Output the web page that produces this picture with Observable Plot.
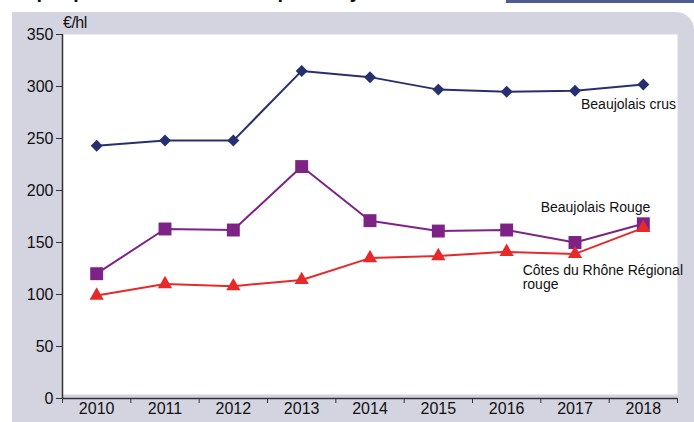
<!DOCTYPE html>
<html><head><meta charset="utf-8">
<script src="https://cdn.jsdelivr.net/npm/d3@7"></script>
<script src="https://cdn.jsdelivr.net/npm/@observablehq/plot@0.6"></script>
<style>
html,body{margin:0;padding:0;background:#fff;width:694px;height:422px;overflow:hidden;position:relative;font-family:"Liberation Sans",Arial,sans-serif;}
#panel{position:absolute;left:12px;top:12px;width:682px;height:410px;background:#d4d3e0;border-top-right-radius:18px;}
#bar{position:absolute;left:506px;top:0;width:188px;height:3px;background:#4e5d8f;}
#title{position:absolute;left:2px;top:-20px;font:bold 20px "Liberation Sans",Arial,sans-serif;color:#111;white-space:nowrap;}
#unit{position:absolute;left:63px;top:14px;font-size:16px;color:#111;letter-spacing:-0.5px;}
#chart{position:absolute;left:0;top:0;}
</style></head>
<body>
<div id="title">Graphique 9 – Évolution des prix moyens des vins en vrac</div>
<div id="bar"></div>
<div id="panel"></div>
<div id="unit">€/hl</div>
<div id="chart"></div>
<script>
const years = [2010, 2011, 2012, 2013, 2014, 2015, 2016, 2017, 2018];
const beaujolaisCrus = [243, 248, 248, 315, 309, 297, 295, 296, 302];
const beaujolaisRouge = [120, 163, 162, 223, 171, 161, 162, 150, 168];
const cotesDuRhone = [99, 110, 108, 114, 135, 137, 141, 139, 164];
const seriesNames = ["Beaujolais crus", "Beaujolais Rouge", "Côtes du Rhône Régional\nrouge"];
const seriesColors = ["#27306f", "#7d2386", "#e62a2a"];
const seriesSymbols = ["diamond2", "square", "triangle"];
const yTicks = [0, 50, 100, 150, 200, 250, 300, 350];
// label anchors: year, value
const labelYears = [2017, 2016, 2016];
const labelValues = [283, 184, 116];

const allSeries = [beaujolaisCrus, beaujolaisRouge, cotesDuRhone];
const rows = [];
allSeries.forEach((vals, i) => vals.forEach((v, j) => rows.push({series: seriesNames[i], year: years[j], value: v})));
const labels = seriesNames.map((s, i) => ({series: s, year: labelYears[i], value: labelValues[i]}));
const bounds = years.map(y => y - 0.5).concat([years[years.length - 1] + 0.5]);
const font = '"Liberation Sans",Arial,sans-serif';

const marks = [
  Plot.frame({fill: "#fff", stroke: null, insetBottom: 4}),
  Plot.axisY({ticks: yTicks, tickSize: 6, tickPadding: 3, fontSize: 16, stroke: "#333", fill: "#111", label: null, style: {letterSpacing: "-0.6px"}}),
  Plot.axisX({ticks: years, tickSize: 0, tickPadding: 4, tickFormat: d => String(d), fontSize: 16, fill: "#111", label: null, style: {letterSpacing: "-0.4px"}}),
  Plot.axisX({ticks: bounds, tickSize: 5, tickFormat: () => "", stroke: "#333", label: null}),
  Plot.ruleY([0], {stroke: "#333", strokeWidth: 1.5}),
  Plot.ruleX([bounds[0]], {y1: 0, y2: yTicks[yTicks.length - 1], stroke: "#333", strokeWidth: 1.5})
];
seriesNames.forEach((s, i) => {
  const d = rows.filter(r => r.series === s);
  marks.push(Plot.line(d, {x: "year", y: "value", stroke: seriesColors[i], strokeWidth: 2}));
});
const rSizes = [5.4, 7.3, 5.3];
seriesNames.forEach((s, i) => {
  const d = rows.filter(r => r.series === s);
  marks.push(Plot.dot(d, {x: "year", y: "value", symbol: () => seriesSymbols[i], fill: seriesColors[i], stroke: null, r: rSizes[i]}));
});
const dxs = [6, 34, 16];
labels.forEach((l, i) => {
  marks.push(Plot.text([l], {x: "year", y: "value", text: "series", textAnchor: "start", dx: dxs[i], fontSize: 14, fill: "#111", lineHeight: 1.0, style: {letterSpacing: "-0.4px"}}));
});

const chart = Plot.plot({
  width: 694, height: 422,
  marginLeft: 62, marginRight: 17, marginTop: 34, marginBottom: 24,
  style: {background: "transparent", fontFamily: font, color: "#111"},
  x: {domain: [bounds[0], bounds[bounds.length - 1]], axis: null},
  y: {domain: [0, 350], axis: null},
  symbol: {type: "identity"},
  marks
});
document.getElementById("chart").appendChild(chart);
</script>
</body></html>
